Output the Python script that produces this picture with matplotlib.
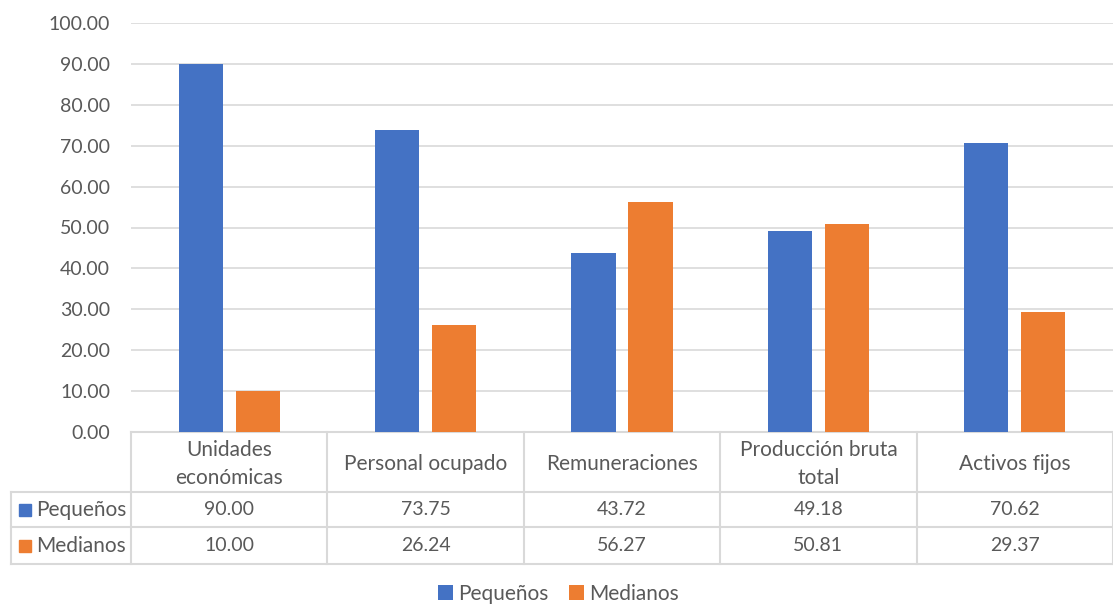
import matplotlib.pyplot as plt
import numpy as np

plt.rcParams['font.family'] = ['Lato', 'DejaVu Sans']

categorias = ["Unidades\neconómicas", "Personal ocupado", "Remuneraciones",
              "Producción bruta\ntotal", "Activos fijos"]
pequenos = [90.00, 73.75, 43.72, 49.18, 70.62]
medianos = [10.00, 26.24, 56.27, 50.81, 29.37]
series = ["Pequeños", "Medianos"]
colores = ["#4472C4", "#ED7D31"]
texto = "#595959"
linea = "#D9D9D9"
fs_num = 14
fs_txt = 15

W, H = 1113, 604
fig = plt.figure(figsize=(W / 100, H / 100), dpi=100)
ax = fig.add_axes([131 / W, (H - 432) / H, 982 / W, 409 / H])

x = np.arange(len(categorias))
ancho = 0.225
ax.bar(x - 0.145, pequenos, ancho, color=colores[0], label=series[0], zorder=3)
ax.bar(x + 0.145, medianos, ancho, color=colores[1], label=series[1], zorder=3)

ax.set_xlim(-0.5, len(categorias) - 0.5)
ax.set_ylim(0, 100)
ax.set_yticks(np.arange(0, 101, 10))
ax.set_yticklabels([f"{v:.2f}" for v in np.arange(0, 101, 10)])
ax.tick_params(axis='y', length=0, pad=15, labelsize=fs_num, labelcolor=texto)
ax.set_xticks([])
ax.grid(axis='y', color=linea, linewidth=1.2, zorder=0)
for s in ["top", "right", "left"]:
    ax.spines[s].set_visible(False)
ax.spines["bottom"].set_color(linea)
ax.spines["bottom"].set_linewidth(1.5)

# tabla de datos debajo del eje
tr = ax.get_xaxis_transform()
px = 1 / 409
y_enc = -60 * px
y_f1 = -95 * px
y_f2 = -132 * px
x_izq = -0.5 - 120 / 196.4
kw = dict(color=linea, linewidth=1.5, transform=tr, clip_on=False)
for b in np.arange(len(categorias) + 1) - 0.5:
    ax.plot([b, b], [0, y_f2], **kw)
for yy in [y_enc, y_f1, y_f2]:
    ax.plot([x_izq, len(categorias) - 0.5], [yy, yy], **kw)
ax.plot([x_izq, x_izq], [y_enc, y_f2], **kw)

for i, c in enumerate(categorias):
    ax.text(i, y_enc / 2 - 2 * px, c, transform=tr, ha='center', va='center',
            fontsize=fs_txt, color=texto, linespacing=1.45)
    ax.text(i, (y_enc + y_f1) / 2, f"{pequenos[i]:.2f}", transform=tr,
            ha='center', va='center', fontsize=fs_num, color=texto)
    ax.text(i, (y_f1 + y_f2) / 2, f"{medianos[i]:.2f}", transform=tr,
            ha='center', va='center', fontsize=fs_num, color=texto)

for yc, nombre, col in [((y_enc + y_f1) / 2, series[0], colores[0]),
                        ((y_f1 + y_f2) / 2, series[1], colores[1])]:
    ax.plot([x_izq + 0.071], [yc], marker='s', markersize=8.5, color=col,
            transform=tr, clip_on=False)
    ax.text(x_izq + 0.127, yc, nombre, transform=tr, ha='left', va='center',
            fontsize=fs_txt, color=texto)

fig.legend(loc='center', bbox_to_anchor=(0.502, 10 / H), ncol=2, frameon=False,
           fontsize=fs_txt, labelcolor=texto, handlelength=0.7, handleheight=0.7,
           handletextpad=0.25, columnspacing=1.0)

fig.savefig("out.png", dpi=100)
